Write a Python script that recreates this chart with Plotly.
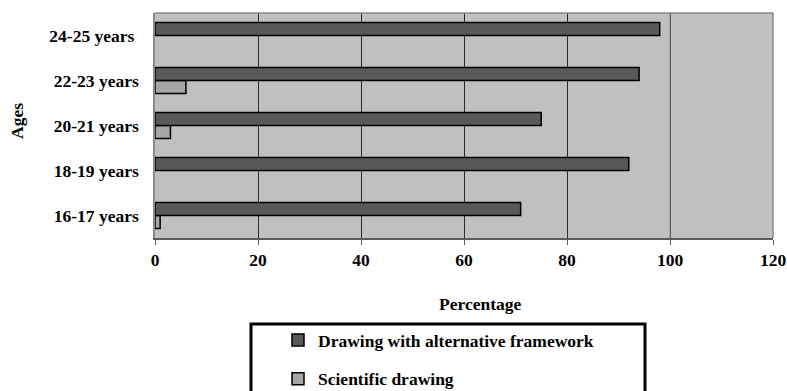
import plotly.graph_objects as go

ages = ["16-17 years", "18-19 years", "20-21 years", "22-23 years", "24-25 years"]
age_labels = ["16-17 years", "18-19 years", "20-21 years", "22-23 years", "24-25 years\u00a0"]
alternative = [71, 92, 75, 94, 98]
scientific = [1, 0, 3, 6, 0]
x_ticks = [0, 20, 40, 60, 80, 100, 120]

FONT = "Liberation Serif"
FS = 17.5

def nz(vals):
    return [v if v else None for v in vals]

fig = go.Figure()
fig.add_trace(go.Bar(
    y=ages, x=nz(scientific), orientation="h", name="Scientific drawing",
    marker=dict(color="#a6a6a6", line=dict(color="#000000", width=1.5)),
    legendrank=2, legendgroup="b",
))
fig.add_trace(go.Bar(
    y=ages, x=nz(alternative), orientation="h", name="Drawing with alternative framework",
    marker=dict(color="#595959", line=dict(color="#000000", width=1.5)),
    legendrank=1, legendgroup="a",
))

W, H = 787, 391
L, T = 155, 13
R = W - 773
B = H - 238
pw, ph = W - L - R, H - T - B

def px(x):
    return (x - L) / pw

def py(y):
    return (H - B - y) / ph

fnt = dict(family=FONT, size=FS, color="black", weight="bold")

fig.update_layout(
    width=W, height=H,
    margin=dict(l=L, r=R, t=T, b=B, autoexpand=False),
    paper_bgcolor="white", plot_bgcolor="#c0c0c0",
    barmode="group", bargap=0.42, bargroupgap=0,
    font=fnt,
    xaxis=dict(range=[0, 120], tickvals=x_ticks, showgrid=True, gridcolor="#2b2b2b", gridwidth=1,
               zeroline=False, showline=True, linecolor="#5a5a5a", linewidth=2,
               ticks="outside", ticklen=5, tickcolor="#5a5a5a", ticklabelstandoff=0,
               ticklabeloverflow="allow", tickfont=fnt),
    yaxis=dict(categoryorder="array", categoryarray=ages, tickvals=ages, ticktext=age_labels,
               showgrid=False, zeroline=False, showline=True, linecolor="#8a8a8a", linewidth=1.5,
               ticks="", ticklabelstandoff=11, tickfont=fnt),
    showlegend=True,
    legend=dict(x=px(278), y=py(322), xanchor="left", yanchor="top",
                bgcolor="rgba(0,0,0,0)", borderwidth=0, tracegroupgap=13,
                font=fnt, traceorder="grouped"),
    annotations=[
        dict(text="Percentage", xref="paper", yref="paper", x=px(481), y=py(304),
             showarrow=False, xanchor="center", yanchor="middle", font=fnt),
        dict(text="Ages", xref="paper", yref="paper", x=px(17), y=py(121),
             showarrow=False, textangle=-90, xanchor="center", yanchor="middle", font=fnt),
    ],
    shapes=[
        dict(type="line", xref="x", yref="paper", x0=x_ticks[5], x1=x_ticks[5], y0=0, y1=1,
             line=dict(color="#8a8a8a", width=1), layer="above"),
        dict(type="line", xref="paper", yref="paper", x0=0, x1=1, y0=1, y1=1,
             line=dict(color="#8a8a8a", width=1.5), layer="above"),
        dict(type="line", xref="paper", yref="paper", x0=1, x1=1, y0=0, y1=1,
             line=dict(color="#8a8a8a", width=1.5), layer="above"),
        dict(type="rect", xref="paper", yref="paper", x0=px(251), x1=px(645), y0=py(324), y1=py(400),
             line=dict(color="black", width=3)),
    ],
)

fig.write_html(
    "out.html",
    config={"displayModeBar": False},
    post_script="document.body.style.margin='0';document.body.style.overflow='hidden';",
)
